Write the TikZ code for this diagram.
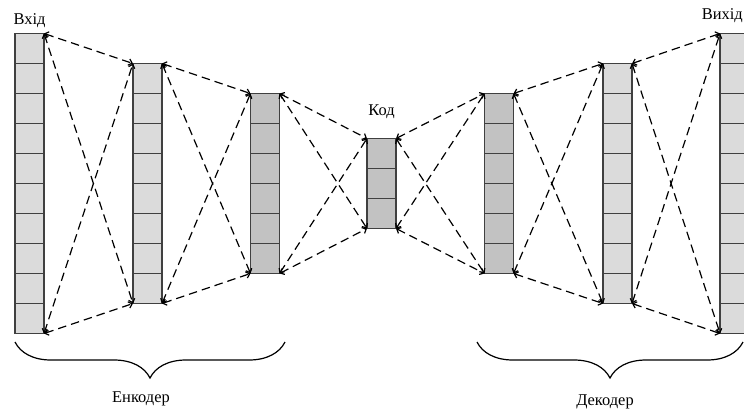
\documentclass[tikz,border=0pt]{standalone}
\usepackage{fontspec}
\setmainfont{Liberation Serif}
\usetikzlibrary{arrows.meta, positioning, decorations.pathreplacing}

\begin{document}
\begin{tikzpicture}[x=1bp, y=-1bp,
    cell/.style={draw=black!75, line width=1.2bp, minimum width=29bp, minimum height=30bp, inner sep=0pt, outer sep=0pt},
    link/.style={dash pattern=on 8.5bp off 5bp, line width=1.2bp, {Straight Barb[length=3.5bp,width=6.5bp]}-{Straight Barb[length=3.5bp,width=6.5bp]}},
    lbl/.style={font=\fontsize{16.5}{19}\selectfont, inner sep=0pt},
    brace/.style={decorate, decoration={brace, mirror, amplitude=36bp}, line width=1.2bp}]
    \useasboundingbox (0,0) rectangle (744,411);

    % layers: name / x / cells / fill
    \foreach \c/\x/\n/\f in {in/29.5/10/14, ha/147.5/8/14, hb/265/6/24, code/381.5/3/24, ga/499/6/24, gb/617.5/8/14, out/734.5/10/14}{
        \foreach \k in {1,...,\n}
            \node (\c-\k) [cell, fill=black!\f] at (\x, 183.5-15*\n+30*\k-15) {};
    }

    % dashed links between neighbouring layers
    \foreach \a/\b/\m/\p in {in/ha/10/8, ha/hb/8/6, hb/code/6/3, code/ga/3/6, ga/gb/6/8, gb/out/8/10}{
        \draw[link] (\a-1.north east) -- (\b-1.north west);
        \draw[link] (\a-1.north east) -- (\b-\p.south west);
        \draw[link] (\a-\m.south east) -- (\b-1.north west);
        \draw[link] (\a-\m.south east) -- (\b-\p.south west);
    }

    \node (lin) [lbl, above=6bp of in-1] {Вхід};
    \node (lcode) [lbl, above=20bp of code-1] {Код};
    \node (lout) [lbl, anchor=east] at (743,16) {Вихід};

    % braces
    \coordinate (encl) at (15,342);
    \coordinate (encr) at (285,342);
    \coordinate (decl) at (477,342);
    \coordinate (decr) at (743,342);
    \draw[brace] (encl) -- (encr);
    \draw[brace] (decl) -- (decr);
    \node (enc) [lbl] at (141,399) {Енкодер};
    \node (dec) [lbl] at (605,402) {Декодер};
\end{tikzpicture}
\end{document}
